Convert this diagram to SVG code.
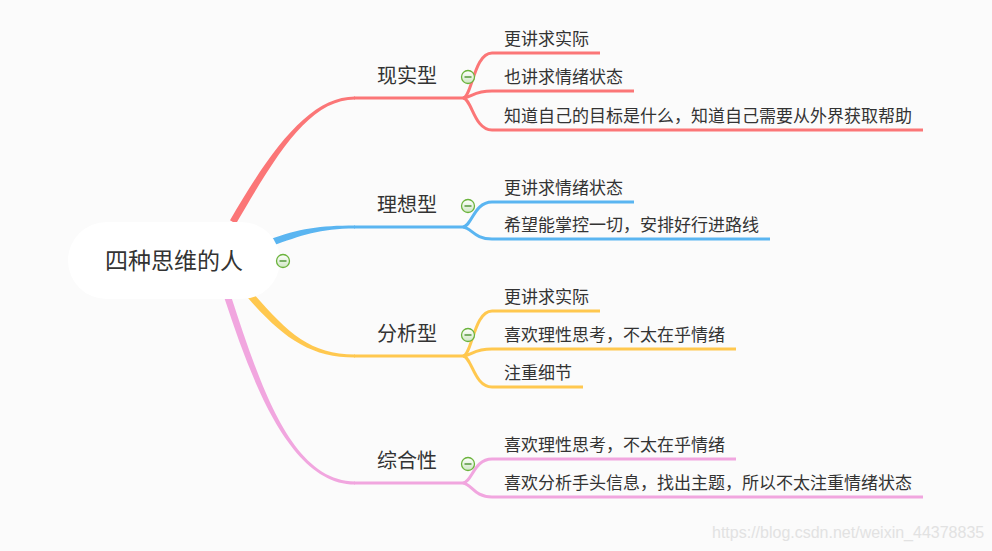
<svg xmlns="http://www.w3.org/2000/svg" width="992" height="551" viewBox="0 0 992 551">
<defs>
<style>
.t{font-family:"Noto Sans CJK SC","Noto Sans",sans-serif;fill:#333;}
.c{font-size:17px;}
.l{font-size:20px;}
.ln{fill:none;stroke-width:3;stroke-linecap:butt;}
.red{stroke:#fb7677;}
.blue{stroke:#5ab5f1;}
.yel{stroke:#ffc84f;}
.pink{stroke:#f1a6df;}
</style>
<linearGradient id="ig" x1="0" y1="0" x2="0" y2="1">
<stop offset="0" stop-color="#ffffff"/>
<stop offset="1" stop-color="#cfe6c4"/>
</linearGradient>
<g id="minus">
<circle r="6.5" fill="url(#ig)" stroke="#6bb33c" stroke-width="1.3"/>
<line x1="-3.5" y1="0" x2="3.5" y2="0" stroke="#3e8a22" stroke-width="1.3"/>
</g>
</defs>
<rect width="992" height="551" fill="#fbfbfb"/>
<g id="connectors">
<path d="M236,223.8 C278,151.8 310,99.5 355,99.5 L355,96.5 C310,96.5 272,148.2 230,220.2 Z" fill="#fb7677"/>
<path class="ln red" d="M354,98 H463"/>
<path class="ln red" d="M463,98 C472,97 474,53 492,53 H600"/>
<path class="ln red" d="M463,98 C472,97 474,91 492,91 H634"/>
<path class="ln red" d="M463,98 C472,99 474,130 492,130 H923"/>
<path d="M271.2,246.3 C301.2,235.3 320,228.5 355,228.5 L355,225.5 C320,225.5 298.8,228.7 268.8,239.7 Z" fill="#5ab5f1"/>
<path class="ln blue" d="M354,227 H463"/>
<path class="ln blue" d="M463,227 C472,226 474,202 492,202 H634"/>
<path class="ln blue" d="M463,227 C472,228 474,239 492,239 H770"/>
<path d="M247.4,297.3 C282.4,337.3 310,357.5 355,357.5 L355,354.5 C310,354.5 287.6,332.7 252.6,292.7 Z" fill="#ffc84f"/>
<path class="ln yel" d="M354,356 H463"/>
<path class="ln yel" d="M463,356 C472,355 474,311 492,311 H600"/>
<path class="ln yel" d="M463,356 C472,355 474,349 492,349 H736"/>
<path class="ln yel" d="M463,356 C472,357 474,387 492,387 H583"/>
<path d="M224.7,299.1 C251.7,381.1 290,484.5 355,484.5 L355,481.5 C290,481.5 258.3,378.9 231.3,296.9 Z" fill="#f1a6df"/>
<path class="ln pink" d="M354,483 H463"/>
<path class="ln pink" d="M463,483 C472,482 474,459 492,459 H736"/>
<path class="ln pink" d="M463,483 C472,484 474,497 492,497 H923"/>
</g>
<g id="root">
<rect x="68" y="222" width="212" height="77" rx="38.5" fill="#ffffff"/>
<text class="t" x="174" y="268.5" font-size="23" text-anchor="middle">四种思维的人</text>
<use href="#minus" x="283" y="261"/>
</g>
<g id="realistic">
<text class="t l" x="377" y="83">现实型</text>
<use href="#minus" x="468" y="77"/>
</g>
<g id="r1"><text class="t c" x="504" y="45">更讲求实际</text></g>
<g id="r2"><text class="t c" x="504" y="83">也讲求情绪状态</text></g>
<g id="r3"><text class="t c" x="504" y="122">知道自己的目标是什么，知道自己需要从外界获取帮助</text></g>
<g id="ideal">
<text class="t l" x="377" y="212">理想型</text>
<use href="#minus" x="468" y="206"/>
</g>
<g id="i1"><text class="t c" x="504" y="194">更讲求情绪状态</text></g>
<g id="i2"><text class="t c" x="504" y="231">希望能掌控一切，安排好行进路线</text></g>
<g id="analytic">
<text class="t l" x="377" y="341">分析型</text>
<use href="#minus" x="468" y="335"/>
</g>
<g id="a1"><text class="t c" x="504" y="303">更讲求实际</text></g>
<g id="a2"><text class="t c" x="504" y="341">喜欢理性思考，不太在乎情绪</text></g>
<g id="a3"><text class="t c" x="504" y="379">注重细节</text></g>
<g id="synthetic">
<text class="t l" x="377" y="468">综合性</text>
<use href="#minus" x="468" y="464"/>
</g>
<g id="s1"><text class="t c" x="504" y="451">喜欢理性思考，不太在乎情绪</text></g>
<g id="s2"><text class="t c" x="504" y="489">喜欢分析手头信息，找出主题，所以不太注重情绪状态</text></g>
<text x="712" y="538" font-family="Liberation Sans, Arial, sans-serif" font-size="16" fill="#e2e2e2">https://blog.csdn.net/weixin_44378835</text>
</svg>
